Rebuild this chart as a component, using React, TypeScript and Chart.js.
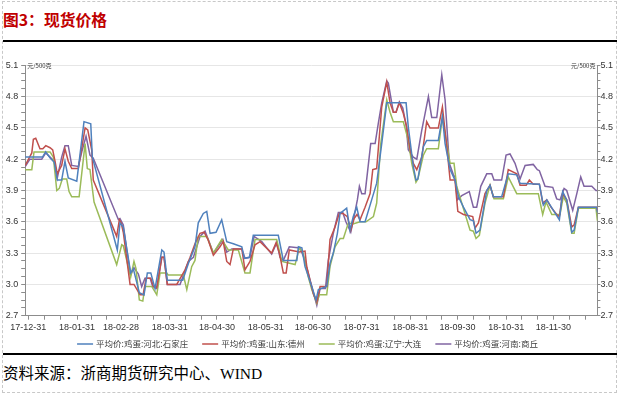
import { useEffect, useRef } from 'react';
import { Chart, registerables } from 'chart.js';

Chart.register(...registerables);

// x axis: day offset from 2017-12-31
const X_MIN = -2;
const X_MAX = 362;
const monthEndDays = [0, 31, 59, 90, 120, 151, 181, 212, 243, 273, 304, 334, 365];
const monthEndLabels = ['17-12-31', '18-01-31', '18-02-28', '18-03-31', '18-04-30', '18-05-31', '18-06-30', '18-07-31', '18-08-31', '18-09-30', '18-10-31', '18-11-30', '18-12-31'];

const Y_MIN = 2.7;
const Y_MAX = 5.1;
const Y_STEP = 0.3;
const Y_MINOR = 4;

const seriesNames = ['平均价:鸡蛋:河北:石家庄', '平均价:鸡蛋:山东:德州', '平均价:鸡蛋:辽宁:大连', '平均价:鸡蛋:河南:商丘'];
const seriesColors = ['#4f81bd', '#c0504d', '#9bbb59', '#8064a2'];

const hebeiDays = [-2, 9, 11, 14, 16.5, 18.4, 21.2, 23.3, 25.4, 30.8, 35.4, 39.7, 40.7, 56.6, 58.3, 60.4, 65.1, 66.8, 70.6, 73.6, 75.7, 77.9, 80.6, 84.9, 86.3, 88.4, 98.2, 101.8, 106, 108.1, 111.3, 113.5, 115.6, 119.4, 123, 126.2, 130.4, 135.8, 137.4, 140.6, 143.1, 159, 162.2, 170.8, 171.8, 174, 176, 180.3, 183, 184.5, 189.8, 191.9, 194, 196.6, 198.3, 202.5, 204.6, 206.7, 208.9, 211, 214.2, 218.4, 221.6, 224.8, 228, 240.3, 241.7, 244.9, 246.6, 247.8, 251.3, 253.4, 260.8, 263.4, 265.1, 268.3, 271.4, 273.6, 276.8, 281, 283.1, 284.8, 287.3, 291.6, 293.7, 295.8, 301.1, 305.3, 310.7, 312.8, 325.1, 327.6, 329.8, 334, 337.8, 339.9, 342.5, 345.7, 347.2, 349.9, 361.6, 362];
const hebeiValues = [4.22, 4.22, 4.27, 4.21, 4.17, 4.0, 4.0, 4.18, 4.02, 3.99, 4.56, 4.54, 4.22, 3.33, 3.59, 3.55, 3.11, 3.15, 2.92, 2.9, 3.11, 3.11, 2.96, 3.33, 3.31, 3.04, 3.04, 3.2, 3.36, 3.59, 3.68, 3.7, 3.49, 3.5, 3.62, 3.41, 3.39, 3.36, 3.25, 3.26, 3.47, 3.47, 3.23, 3.23, 3.36, 3.35, 3.17, 2.98, 2.85, 2.95, 2.98, 3.2, 3.3, 3.49, 3.68, 3.73, 3.52, 3.65, 3.74, 3.6, 3.6, 3.81, 3.97, 4.35, 4.74, 4.74, 4.51, 4.13, 4.0, 4.01, 4.32, 4.38, 4.38, 4.61, 4.35, 4.1, 4.0, 3.84, 3.74, 3.62, 3.61, 3.49, 3.52, 3.9, 3.95, 3.84, 3.84, 4.06, 4.05, 3.97, 3.96, 3.76, 3.81, 3.71, 3.62, 3.89, 3.81, 3.5, 3.52, 3.74, 3.74, 3.69];

const shandongDays = [-2, 2.2, 3.2, 4.7, 7.4, 9.2, 11.1, 13.8, 15.5, 17, 18.4, 21.2, 23.3, 25.4, 27.6, 31.8, 36.1, 37.8, 40.3, 41.3, 56.2, 57.9, 59, 60.4, 64.7, 67.2, 71.1, 73, 74.9, 77.9, 79.5, 81.7, 84.9, 86.3, 88.4, 94.4, 99.7, 102.9, 106, 109.2, 111.8, 114.3, 117.7, 121.9, 124, 126.2, 128.3, 130.4, 135.8, 137.8, 141, 144.2, 147.4, 154.8, 157.6, 159.7, 162.2, 164, 166, 172.4, 176, 177.1, 179.2, 181.3, 183.5, 185.6, 189.8, 191.9, 195.1, 197.8, 200.2, 202.9, 205.1, 207.2, 209.1, 211, 214.2, 217.4, 219.1, 221.6, 224.8, 228, 230.1, 232.2, 233.9, 236, 238.5, 240.7, 242.8, 244.9, 247.1, 250.3, 253.4, 255.5, 260.8, 263.4, 266.2, 268.3, 271.4, 273.2, 276.8, 282.7, 284.2, 286.3, 290.5, 293.7, 295.8, 302.2, 305.3, 310.7, 312.8, 316.7, 318.7, 321.2, 325.1, 327.2, 329.8, 332.5, 336.1, 337.8, 339.9, 342.5, 345.7, 347.2, 349.9, 361.6, 362];
const shandongValues = [4.14, 4.26, 4.39, 4.4, 4.3, 4.3, 4.33, 4.31, 4.29, 4.18, 4.06, 4.14, 4.3, 4.18, 4.11, 4.11, 4.5, 4.48, 4.29, 4.0, 3.46, 3.62, 3.59, 3.5, 3.0, 3.0, 2.9, 2.9, 3.06, 3.06, 2.98, 2.97, 3.26, 3.26, 3.0, 3.0, 3.14, 3.26, 3.39, 3.49, 3.5, 3.43, 3.28, 3.36, 3.41, 3.22, 3.19, 3.34, 3.34, 3.14, 3.22, 3.38, 3.41, 3.3, 3.4, 3.3, 3.11, 3.11, 3.33, 3.31, 3.32, 3.17, 3.04, 2.91, 2.83, 2.98, 2.98, 3.43, 3.55, 3.68, 3.68, 3.65, 3.52, 3.63, 3.67, 3.62, 3.74, 3.87, 4.1, 4.11, 4.7, 4.94, 4.74, 4.65, 4.65, 4.74, 4.64, 4.51, 4.3, 4.16, 4.1, 4.22, 4.56, 4.5, 4.5, 4.7, 4.32, 4.0, 4.0, 3.7, 3.67, 3.65, 3.54, 3.59, 3.87, 3.95, 3.84, 3.84, 4.1, 4.06, 3.95, 3.95, 4.0, 3.96, 3.96, 3.78, 3.81, 3.74, 3.67, 3.65, 3.87, 3.81, 3.55, 3.57, 3.74, 3.74, 3.71];

const liaoningDays = [-2, 2.2, 3.6, 13.8, 15.9, 18.1, 19.7, 21.6, 24.4, 25.9, 27.6, 32.3, 36.1, 37.5, 39.2, 41.8, 56.2, 59.4, 60.4, 65.1, 67.2, 68.5, 70.6, 72.8, 74.2, 78.5, 81.7, 83.8, 88, 88.9, 98.6, 100.8, 103.9, 106, 108.1, 113.5, 117.7, 123, 127.2, 133.6, 137.8, 141, 144.2, 158, 161.2, 169.7, 172.4, 174.8, 178.1, 180.3, 183.5, 185.1, 189.8, 191.9, 195.1, 198.3, 200.4, 203.6, 206.5, 211, 214.8, 219.5, 221.6, 224.2, 228, 230.1, 232.2, 238.5, 241.7, 243.9, 246.6, 247.8, 251.3, 253.4, 260.8, 263.4, 268.3, 270.8, 272.5, 275.7, 281, 283.1, 284.8, 286.9, 290.5, 293.7, 296.2, 302.2, 305.3, 310.7, 324.4, 327.2, 329.3, 333, 338.2, 340.3, 342.5, 345.7, 347.2, 349.9, 361.1, 362];
const liaoningValues = [4.1, 4.1, 4.27, 4.27, 4.22, 3.9, 3.92, 4.01, 4.01, 3.89, 3.84, 3.84, 4.35, 4.11, 4.1, 3.79, 3.19, 3.38, 3.37, 3.07, 3.22, 3.15, 2.85, 2.84, 2.98, 2.98, 2.9, 3.11, 3.11, 3.09, 3.09, 2.95, 3.17, 3.23, 3.46, 3.46, 3.3, 3.43, 3.33, 3.33, 3.11, 3.11, 3.43, 3.43, 3.22, 3.19, 3.35, 3.3, 3.07, 2.95, 2.82, 2.9, 2.9, 3.17, 3.36, 3.44, 3.44, 3.59, 3.58, 3.6, 3.6, 3.65, 3.78, 4.35, 4.77, 4.65, 4.56, 4.56, 4.38, 4.16, 3.98, 4.01, 4.24, 4.3, 4.3, 4.6, 4.16, 4.16, 3.94, 3.78, 3.52, 3.51, 3.44, 3.47, 3.78, 3.95, 3.82, 3.82, 4.03, 3.87, 3.87, 3.67, 3.79, 3.67, 3.67, 3.84, 3.78, 3.49, 3.49, 3.73, 3.73, 3.61];

const henanDays = [-2, 1, 8.5, 11.1, 13.8, 16.5, 18.4, 21.2, 23.3, 25.4, 27.6, 31.8, 34, 36.7, 39.2, 41.3, 57.3, 58.3, 60.4, 62.6, 65.1, 67.2, 70, 72.1, 74.2, 77.4, 79.1, 81.7, 84.9, 86.3, 88.4, 96.5, 101.8, 105, 109.2, 112.4, 114, 117.7, 123.7, 126.2, 129.4, 135.8, 137.8, 141, 143.6, 148.5, 154.8, 158, 160.1, 162.2, 166, 172.8, 176, 179.2, 183.5, 185.6, 189, 190.8, 194, 197.2, 200, 202, 205.1, 207.2, 209.3, 210.6, 212.1, 214.2, 217.8, 220.6, 222.6, 224.8, 228, 229, 232.2, 233.9, 236, 238.2, 240.3, 241.7, 244.9, 247.1, 250.3, 252.4, 254.5, 256.6, 259.8, 263, 265.1, 267.8, 270.4, 271.4, 272.9, 275.7, 280.5, 283.1, 285.2, 287.8, 291.6, 294.8, 296.2, 301.1, 303.9, 306.4, 309.6, 312.8, 316, 321.2, 323.8, 325.1, 328.7, 333.6, 336.1, 338.2, 340.8, 342.5, 346.3, 348.9, 351.4, 353.5, 358.4, 361.1, 362];
const henanValues = [4.13, 4.2, 4.2, 4.26, 4.22, 4.18, 4.02, 4.22, 4.33, 4.33, 4.14, 4.13, 4.27, 4.42, 4.24, 4.21, 3.62, 3.63, 3.57, 3.33, 3.09, 3.16, 3.1, 2.98, 3.06, 3.06, 2.98, 2.96, 3.26, 3.26, 3.0, 3.0, 3.22, 3.26, 3.46, 3.51, 3.45, 3.3, 3.43, 3.31, 3.34, 3.34, 3.25, 3.26, 3.46, 3.41, 3.29, 3.4, 3.26, 3.23, 3.36, 3.35, 3.23, 3.04, 2.8, 2.96, 2.96, 3.23, 3.49, 3.69, 3.69, 3.6, 3.5, 3.65, 3.81, 3.94, 3.87, 3.87, 4.35, 4.35, 4.54, 4.74, 4.95, 4.93, 4.65, 4.65, 4.75, 4.69, 4.53, 4.29, 4.22, 4.2, 4.48, 4.64, 4.8, 4.6, 4.6, 5.01, 4.77, 4.16, 4.05, 4.03, 3.81, 3.85, 3.89, 3.74, 3.74, 3.94, 4.06, 4.06, 4.0, 4.0, 4.24, 4.25, 4.16, 4.01, 4.14, 4.15, 4.1, 4.09, 3.94, 3.93, 3.82, 3.81, 3.92, 3.9, 3.71, 3.87, 4.03, 3.94, 3.94, 3.9, 3.9];

const seriesDays = [hebeiDays, shandongDays, liaoningDays, henanDays];
const seriesValues = [hebeiValues, shandongValues, liaoningValues, henanValues];

const unitLabel = '元/500克';
const TICK_FONT = { family: '"Liberation Sans", Arial, sans-serif', size: 9 };
const AXIS_COLOR = '#8c8c8c';

const yTickValues: number[] = [];
for (let i = 0; i <= Math.round((Y_MAX - Y_MIN) / Y_STEP) * Y_MINOR; i++) {
  yTickValues.push(+(Y_MIN + (i * Y_STEP) / Y_MINOR).toFixed(4));
}
const isMajor = (v: number) => {
  const k = (v - Y_MIN) / Y_STEP;
  return Math.abs(k - Math.round(k)) < 1e-6;
};

const extrasPlugin = {
  id: 'extras',
  afterDraw(chart: any) {
    const { ctx, chartArea } = chart;
    ctx.save();
    // unit labels
    ctx.font = '6px "Noto Sans CJK SC", sans-serif';
    ctx.fillStyle = '#333';
    ctx.textBaseline = 'middle';
    ctx.textAlign = 'left';
    ctx.fillText(unitLabel, chartArea.left + 2, chartArea.top + 0.5);
    ctx.textAlign = 'right';
    ctx.fillText(unitLabel, chartArea.right - 2, chartArea.top + 0.5);
    // legend
    ctx.font = '8.5px "Noto Sans CJK SC", sans-serif';
    const items = chart.data.datasets.map((ds: any) => ({
      label: ds.label,
      color: ds.borderColor,
      w: ctx.measureText(ds.label).width,
    }));
    const lineW = 16;
    const textGap = 3;
    const gap = 14;
    const total = items.reduce((s: number, it: any) => s + lineW + textGap + it.w, 0) + gap * (items.length - 1);
    let x = 307.5 - total / 2;
    const y = 300;
    ctx.textAlign = 'left';
    ctx.textBaseline = 'middle';
    for (const it of items) {
      ctx.strokeStyle = it.color;
      ctx.lineWidth = 1.5;
      ctx.beginPath();
      ctx.moveTo(x, y);
      ctx.lineTo(x + lineW, y);
      ctx.stroke();
      ctx.fillStyle = '#404040';
      ctx.fillText(it.label, x + lineW + textGap, y);
      x += lineW + textGap + it.w + gap;
    }
    ctx.restore();
  },
};

export default function App() {
  const canvasRef = useRef<HTMLCanvasElement | null>(null);

  useEffect(() => {
    if (!canvasRef.current) return;
    const datasets = seriesNames.map((name, i) => ({
      label: name,
      data: seriesDays[i].map((d, j) => ({ x: d, y: seriesValues[i][j] })),
      borderColor: seriesColors[i],
      backgroundColor: seriesColors[i],
      borderWidth: 1.5,
      pointRadius: 0,
      tension: 0,
      fill: false,
    }));

    const yCommon = (pos: 'left' | 'right') => ({
      type: 'linear' as const,
      position: pos,
      min: Y_MIN,
      max: Y_MAX,
      afterBuildTicks: (s: any) => {
        s.ticks = yTickValues.map((v) => ({ value: v }));
      },
      ticks: {
        autoSkip: false,
        font: TICK_FONT,
        color: '#333',
        padding: pos === 'left' ? 3 : 0,
        callback: (v: any) => (isMajor(Number(v)) ? Number(v).toFixed(1) : ''),
      },
      grid: {
        drawOnChartArea: pos === 'left',
        color: (c: any) => (c.tick && isMajor(c.tick.value) ? '#e6e6e6' : 'rgba(0,0,0,0)'),
        tickColor: AXIS_COLOR,
        tickLength: pos === 'left' ? 4 : 3,
      },
      border: { color: AXIS_COLOR, width: 1 },
      afterFit: (s: any) => {
        s.width = pos === 'left' ? 25.2 : 21.6;
      },
    });

    const chart = new Chart(canvasRef.current, {
      type: 'line',
      data: { datasets },
      options: {
        animation: false,
        responsive: false,
        maintainAspectRatio: false,
        layout: { padding: { left: 0, right: 0, top: 21.3, bottom: 19.5 } },
        plugins: { legend: { display: false }, tooltip: { enabled: false } },
        scales: {
          x: {
            type: 'linear',
            min: X_MIN,
            max: X_MAX,
            afterBuildTicks: (s: any) => {
              const t: any[] = [];
              for (let i = 0; i < monthEndDays.length; i++) {
                const d0 = monthEndDays[i];
                const d1 = i + 1 < monthEndDays.length ? monthEndDays[i + 1] : d0 + 31;
                for (let k = 0; k < 3; k++) {
                  const v = d0 + ((d1 - d0) * k) / 3;
                  if (v >= X_MIN && v <= X_MAX) t.push({ value: v });
                }
              }
              s.ticks = t;
            },
            ticks: {
              autoSkip: false,
              maxRotation: 0,
              font: TICK_FONT,
              color: '#333',
              padding: 2,
              callback: (v: any) => {
                const i = monthEndDays.indexOf(Number(v));
                return i >= 0 ? monthEndLabels[i] : '';
              },
            },
            grid: { drawOnChartArea: false, tickColor: AXIS_COLOR, tickLength: 4 },
            border: { color: AXIS_COLOR, width: 1 },
            afterFit: (s: any) => {
              s.height = 18.8;
            },
          },
          y: yCommon('left'),
          y2: yCommon('right'),
        },
      },
      plugins: [extrasPlugin],
    } as any);
    return () => chart.destroy();
  }, []);

  return (
    <div style={{ position: 'fixed', left: 0, top: 0, width: 619, height: 397, background: '#fff', overflow: 'hidden' }}>
      <div style={{ position: 'absolute', left: 2, top: 1, width: 615, height: 392, border: '1px dashed #c8c8c8', boxSizing: 'border-box' }} />
      <div style={{ position: 'absolute', left: 3, top: 10, fontFamily: '"Noto Sans CJK SC", sans-serif', fontWeight: 700, fontSize: 15.8, lineHeight: '20px', color: '#c00000', whiteSpace: 'nowrap' }}>
        图3：现货价格
      </div>
      <div style={{ position: 'absolute', left: 3, top: 40, width: 614, height: 2, background: '#000' }} />
      <canvas ref={canvasRef} width={619} height={310} style={{ position: 'absolute', left: 0, top: 44, width: 619, height: 310, display: 'block' }} />
      <div style={{ position: 'absolute', left: 3, top: 353, width: 614, height: 2, background: '#000' }} />
      <div style={{ position: 'absolute', left: 3, top: 364, fontFamily: '"Liberation Serif", "Noto Sans CJK SC", serif', fontSize: 15.5, lineHeight: '20px', color: '#000', whiteSpace: 'nowrap' }}>
        资料来源：浙商期货研究中心、WIND
      </div>
    </div>
  );
}
